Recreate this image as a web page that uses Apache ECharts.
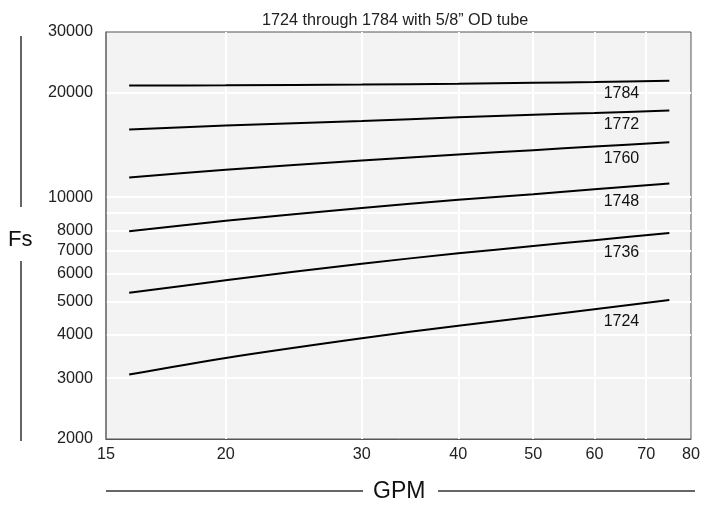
<!DOCTYPE html>
<html><head><meta charset="utf-8">
<script src="https://cdn.jsdelivr.net/npm/echarts@6/dist/echarts.min.js"></script>
<style>html,body{margin:0;padding:0;background:#fff}#c{width:703px;height:506px}</style>
</head><body><div id="c"></div>
<script>
// ---- data ----
const titleText = '1724 through 1784 with 5/8\u201D OD tube';
const xName = 'GPM';
const yName = 'Fs';
const gpm = [15, 20, 30, 40, 50, 60, 75];
const s1784 = [21000, 21050, 21150, 21250, 21400, 21500, 21700];
const s1772 = [15680, 16100, 16600, 17000, 17300, 17500, 17800];
const s1760 = [11400, 12000, 12750, 13270, 13670, 14000, 14400];
const s1748 = [7970, 8540, 9300, 9820, 10200, 10530, 10950];
const s1736 = [5290, 5750, 6420, 6880, 7220, 7510, 7880];
const s1724 = [3070, 3430, 3910, 4250, 4510, 4740, 5040];
const seriesNames = ['1784', '1772', '1760', '1748', '1736', '1724'];
const seriesValues = [s1784, s1772, s1760, s1748, s1736, s1724];
const xTickLabels = ['15', '20', '30', '40', '50', '60', '70', '80'];
const xTickValues = [14, 20, 30, 40, 50, 60, 70, 80];
const xGridValues = [20, 30, 40, 50, 60, 70];
const yTickLabels = [2000, 3000, 4000, 5000, 6000, 7000, 8000, 10000, 20000, 30000];
const yGridValues = [3000, 4000, 5000, 6000, 7000, 8000, 9000, 10000, 20000];
const labelAtGpm = 60;

// ---- chart ----
const FONT = '"Liberation Sans", Arial, Helvetica, sans-serif';
const chart = echarts.init(document.getElementById('c'), null, {renderer: 'canvas'});
const series = seriesNames.map((name, si) => ({
  name: name,
  type: 'line',
  smooth: 0.3,
  symbol: 'circle',
  symbolSize: 1,
  showSymbol: true,
  itemStyle: {color: 'transparent'},
  lineStyle: {color: '#000', width: 2},
  silent: true,
  data: gpm.map((g, i) => {
    const item = {value: [g, seriesValues[si][i]]};
    if (g === labelAtGpm) {
      item.label = {
        show: true, position: 'inside', offset: [27, 12],
        formatter: name, color: '#111', fontSize: 16, fontFamily: FONT
      };
    }
    return item;
  })
}));

chart.setOption({
  animation: false,
  backgroundColor: '#fff',
  title: {
    text: titleText, left: 257, top: 8,
    textStyle: {fontSize: 16.2, fontWeight: 'normal', color: '#222', fontFamily: FONT}
  },
  grid: {
    left: 106, right: 10, top: 32, bottom: 67,
    show: true, backgroundColor: '#f3f3f3', borderColor: '#555', borderWidth: 1
  },
  xAxis: {
    type: 'log', min: xTickValues[0], max: xTickValues[xTickValues.length - 1],
    axisLine: {show: true, lineStyle: {color: '#555', width: 1}},
    axisTick: {show: false, customValues: xGridValues},
    splitLine: {show: true, lineStyle: {color: '#ffffff', width: 2}},
    axisLabel: {
      customValues: xTickValues, margin: 8,
      formatter: v => xTickLabels[xTickValues.indexOf(Math.round(v))] || '',
      color: '#222', fontSize: 16.2, fontFamily: FONT
    }
  },
  yAxis: {
    type: 'log', min: yTickLabels[0], max: yTickLabels[yTickLabels.length - 1],
    axisLine: {show: true, lineStyle: {color: '#777', width: 1.5}},
    axisTick: {show: false, customValues: yGridValues},
    splitLine: {show: true, lineStyle: {color: '#ffffff', width: 2}},
    axisLabel: {
      customValues: yTickLabels, margin: 13,
      formatter: v => String(Math.round(v)),
      color: '#222', fontSize: 16.2, fontFamily: FONT, padding: [3, 0, 0, 0]
    }
  },
  graphic: [
    {type: 'text', left: 8, top: 229, style: {text: yName, fontSize: 22, fontFamily: FONT, fill: '#111'}},
    {type: 'line', shape: {x1: 21, y1: 36, x2: 21, y2: 207}, style: {stroke: '#333', lineWidth: 1.5}},
    {type: 'line', shape: {x1: 21, y1: 261, x2: 21, y2: 441}, style: {stroke: '#333', lineWidth: 1.5}},
    {type: 'text', left: 373, top: 480, style: {text: xName, fontSize: 23, fontFamily: FONT, fill: '#111'}},
    {type: 'line', shape: {x1: 106, y1: 491, x2: 363, y2: 491}, style: {stroke: '#333', lineWidth: 1.5}},
    {type: 'line', shape: {x1: 438, y1: 491, x2: 695, y2: 491}, style: {stroke: '#333', lineWidth: 1.5}}
  ],
  series: series
});
</script>
</body></html>
